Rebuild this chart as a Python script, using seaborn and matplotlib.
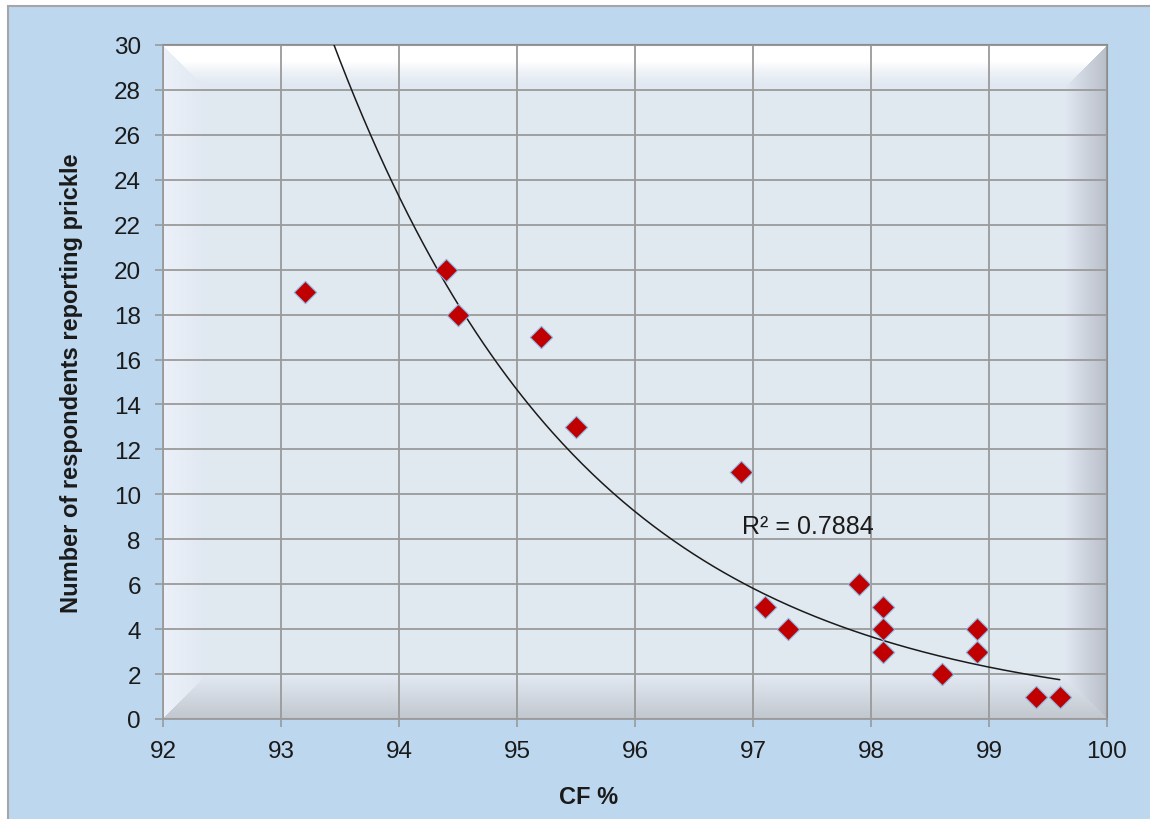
import numpy as np
import pandas as pd
import matplotlib
matplotlib.use("Agg")
import matplotlib.pyplot as plt
from matplotlib.patches import Rectangle
import seaborn as sns
from matplotlib import font_manager

# ---- data ----
cf_percent = [93.2, 94.4, 94.5, 95.2, 95.5, 96.9, 97.1, 97.3, 97.9,
              98.1, 98.1, 98.1, 98.6, 98.9, 98.9, 99.4, 99.6]
respondents = [19, 20, 18, 17, 13, 11, 5, 4, 6, 5, 4, 3, 2, 4, 3, 1, 1]
x_ticks = [92, 93, 94, 95, 96, 97, 98, 99, 100]
y_ticks = list(range(0, 31, 2))
r2_label = "R\u00b2 = 0.7884"
x_label = "CF %"
y_label = "Number of respondents reporting prickle"

df = pd.DataFrame({"cf": cf_percent, "n": respondents})

# exponential trendline (least squares on log y, as a spreadsheet does)
b, ln_a = np.polyfit(df["cf"], np.log(df["n"]), 1)
trend_x = np.linspace(df["cf"].min(), df["cf"].max(), 300)
trend_y = np.exp(ln_a + b * trend_x)
trend = pd.DataFrame({"cf": trend_x, "n": trend_y})
trend = trend[trend["n"] <= 30.2]

sns.set_theme(style="white")
avail = {f.name for f in font_manager.fontManager.ttflist}
fam = ["Liberation Sans Narrow"] if "Liberation Sans Narrow" in avail else []
plt.rcParams["font.family"] = fam + ["Liberation Sans", "DejaVu Sans"]

W, H = 1150, 820
fig = plt.figure(figsize=(W / 100, H / 100), dpi=100)
fig.patch.set_facecolor("white")
bg = Rectangle((8 / W, -0.01), 1.02, 1 - 7 / H + 0.01,
               transform=fig.transFigure, facecolor="#BDD7EE",
               edgecolor="#A6A6A6", linewidth=1.5, zorder=-10)
fig.add_artist(bg)

L, R, T, B = 163, 1107, 46, 720
ax = fig.add_axes([L / W, 1 - B / H, (R - L) / W, (B - T) / H])
ax.set_zorder(1)
ax.set_facecolor("#E1E8F1")

# bevelled plot-area background
pw, ph = R - L, B - T
yy, xx = np.mgrid[0:ph, 0:pw].astype(float)
d_top, d_bot, d_left, d_right = yy, ph - 1 - yy, xx, pw - 1 - xx
bw = 42.0
base = np.array([0.882, 0.910, 0.945])
img = np.tile(base, (ph, pw, 1))
dmin = np.minimum(np.minimum(d_top, d_bot), np.minimum(d_left, d_right))
which = np.argmin(np.stack([d_top, d_bot, d_left, d_right]), axis=0)
t = np.clip(1 - dmin / bw, 0, 1)
top_c = np.array([1.0, 1.0, 1.0])
bot_c = np.array([0.76, 0.78, 0.81])
left_c = np.array([0.925, 0.945, 0.975])
right_c = np.array([0.73, 0.75, 0.79])
for k, col in enumerate([top_c, bot_c, left_c, right_c]):
    m = (which == k) & (dmin < bw)
    tt = t[m][:, None]
    if k == 0:
        tt = np.clip(tt * 1.6, 0, 1) ** 1.5
    img[m] = base * (1 - tt) + col * tt
ax.imshow(img, extent=(92, 100, 0, 30), aspect="auto", zorder=0,
          interpolation="bilinear")

ax.set_xlim(92, 100)
ax.set_ylim(0, 30)
ax.set_xticks(x_ticks)
ax.set_yticks(y_ticks)
ax.grid(True, color="#9A9A9A", linewidth=1.3, zorder=1)
ax.set_axisbelow(False)

sns.lineplot(data=trend, x="cf", y="n", ax=ax, color="#1A1A1A",
             linewidth=1.1, zorder=3, estimator=None, sort=False)
sns.scatterplot(data=df, x="cf", y="n", ax=ax, marker="D", s=130,
                color="#C00000", edgecolor="#8DB4E2", linewidth=0.8,
                zorder=4)

ax.text(96.91, 8.6, r2_label, fontsize=18, color="#1A1A1A",
        ha="left", va="center", zorder=5)

for s in ["left", "bottom"]:
    ax.spines[s].set_color("#9A9A9A")
    ax.spines[s].set_linewidth(1.3)
for s in ["top", "right"]:
    ax.spines[s].set_color("#8C8C8C")
    ax.spines[s].set_linewidth(1.5)

ax.tick_params(axis="both", which="major", direction="out", length=6,
               width=1.2, color="#9A9A9A", labelsize=17.5, labelcolor="#1A1A1A",
               left=True, bottom=True)
ax.tick_params(axis="y", pad=10)
ax.tick_params(axis="x", pad=9)

ax.set_xlabel(x_label, fontsize=17, fontweight="bold", color="#1A1A1A")
ax.xaxis.set_label_coords((589 - L) / pw, -(798 - B) / ph, transform=ax.transAxes)
ax.xaxis.label.set_va("center")
ax.set_ylabel(y_label, fontsize=17, fontweight="bold", color="#1A1A1A",
              labelpad=22)

fig.savefig("out.png", dpi=100, facecolor=fig.get_facecolor())
